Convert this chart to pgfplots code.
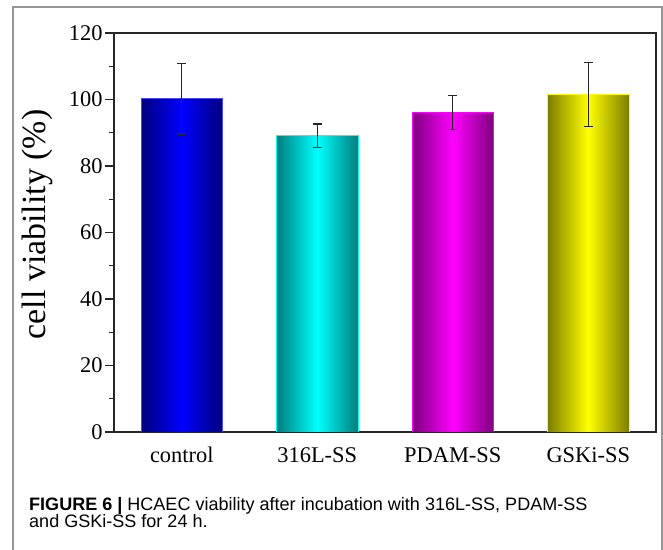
\documentclass[border=0pt]{standalone}
\usepackage{fontspec}
\setmainfont{Liberation Serif}
\newfontfamily\capfont{Liberation Sans}
\usepackage{pgfplots}
\pgfplotsset{compat=1.18}

\definecolor{blueD}{RGB}{0,0,125}
\definecolor{blueL}{RGB}{0,0,255}
\definecolor{blueE}{RGB}{70,70,255}
\definecolor{cyanD}{RGB}{0,125,125}
\definecolor{cyanL}{RGB}{0,255,255}
\definecolor{magD}{RGB}{125,0,125}
\definecolor{magL}{RGB}{255,0,255}
\definecolor{yelD}{RGB}{125,125,0}
\definecolor{yelL}{RGB}{255,255,0}
\definecolor{framegray}{RGB}{150,150,150}

\begin{document}
\begin{tikzpicture}[x=1bp,y=1bp]
\useasboundingbox (0,0) rectangle (663,550);
\draw[framegray, line width=1.3bp] (13,-10) -- (13,543) -- (662,543) -- (662,-10);
\begin{axis}[
  at={(114bp,118bp)}, anchor=south west,
  scale only axis, width=542bp, height=399bp,
  xmin=-0.5, xmax=3.5, ymin=0, ymax=120,
  xtick={0,1,2,3},
  xticklabels={control,316L-SS,PDAM-SS,GSKi-SS},
  ytick={0,20,...,120},
  minor ytick={10,30,...,110},
  tick align=outside, tick pos=left,
  major tick length=9bp, minor tick length=5bp,
  tick style={line width=1.1bp, black!85},
  x tick style={draw=none},
  axis line style={line width=1.2bp, black!85},
  /pgf/number format/assume math mode=true,
  ticklabel style={font=\fontsize{22.5}{26}\selectfont},
  yticklabel style={anchor=east, xshift=1bp},
  xticklabel style={anchor=base, yshift=-22bp},
  ylabel={cell viability (\%)},
  ylabel style={font=\fontsize{34}{38}\selectfont, at={(axis description cs:-0.127,0.52)}, anchor=base},
  error bars/error bar style={line width=1.3bp, black!85},
  error bars/error mark options={rotate=90, mark size=4.5bp, line width=1.3bp, black!85},
]
\addplot[ybar, bar width=0.6, bar shift=0pt, draw=blueE, line width=0.8bp,
  left color=blueD, right color=blueD, middle color=blueL,
  error bars/.cd, y dir=both, y explicit]
  coordinates {(0,100.2) +- (0,10.6)};
\addplot[ybar, bar width=0.6, bar shift=0pt, draw=cyanL, line width=0.8bp,
  left color=cyanD, right color=cyanD, middle color=cyanL,
  error bars/.cd, y dir=both, y explicit]
  coordinates {(1,89.1) +- (0,3.5)};
\addplot[ybar, bar width=0.6, bar shift=0pt, draw=magL, line width=0.8bp,
  left color=magD, right color=magD, middle color=magL,
  error bars/.cd, y dir=both, y explicit]
  coordinates {(2,96.0) +- (0,5.1)};
\addplot[ybar, bar width=0.6, bar shift=0pt, draw=yelL, line width=0.8bp,
  left color=yelD, right color=yelD, middle color=yelL,
  error bars/.cd, y dir=both, y explicit]
  coordinates {(3,101.5) +- (0,9.6)};
\end{axis}
\node[anchor=base west, inner sep=0pt, font=\capfont\fontsize{18.1}{18.5}\selectfont] at (29,39)
  {\textbf{FIGURE 6 |} HCAEC viability after incubation with 316L-SS, PDAM-SS};
\node[anchor=base west, inner sep=0pt, font=\capfont\fontsize{18.1}{18.5}\selectfont] at (29,22)
  {and GSKi-SS for 24 h.};
\end{tikzpicture}
\end{document}
